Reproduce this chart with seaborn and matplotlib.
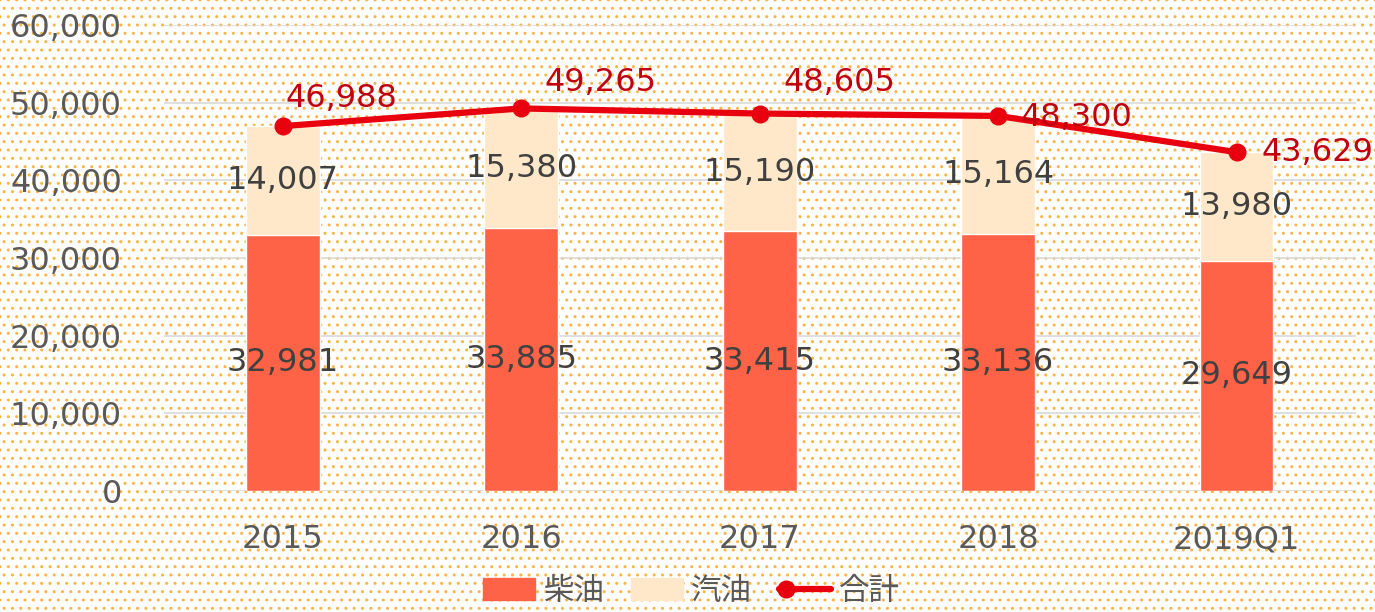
import numpy as np
import matplotlib
matplotlib.use("Agg")
import matplotlib.pyplot as plt
from matplotlib.patches import Rectangle, Patch
from matplotlib.lines import Line2D
from matplotlib.legend_handler import HandlerLine2D
import seaborn as sns

# data
years = ["2015", "2016", "2017", "2018", "2019Q1"]
diesel = [32981, 33885, 33415, 33136, 29649]
gasoline = [14007, 15380, 15190, 15164, 13980]
total = [46988, 49265, 48605, 48300, 43629]
yticks = [0, 10000, 20000, 30000, 40000, 50000, 60000]

sns.set_theme(style="white")
plt.rcParams['font.family'] = ['DejaVu Sans', 'Noto Sans CJK JP']
plt.rcParams['hatch.linewidth'] = 1.0
plt.rcParams['hatch.color'] = '#f9b54a'

C_DIESEL = '#ff6347'
C_GAS = '#ffe8c9'
C_LINE = '#e8000f'
C_TOTLBL = '#c0000f'
C_TXT = '#404040'
C_TICK = '#595959'
FS = 23


class LeftMarkerHandler(HandlerLine2D):
    """Legend line with the marker sitting at the left end (like Excel)."""
    def create_artists(self, legend, orig_handle, xdescent, ydescent,
                       width, height, fontsize, trans):
        y = height / 2 - ydescent
        x0, x1 = -xdescent, width - xdescent
        ln = Line2D([x0, x1], [y, y], color=orig_handle.get_color(),
                    lw=orig_handle.get_linewidth(), transform=trans)
        mk = Line2D([x0 + 5], [y], marker='o', color=orig_handle.get_color(),
                    markersize=orig_handle.get_markersize(), lw=0,
                    markeredgewidth=0, transform=trans)
        return [ln, mk]


fig = plt.figure(figsize=(13.75, 6.12), dpi=100)
fig.patch.set_facecolor('white')
# dotted background like the original
fig.patches.append(Rectangle((0, 0), 1, 1, transform=fig.transFigure,
                             facecolor='white', edgecolor='#f9b54a',
                             hatch='..', linewidth=0, zorder=-10))

ax = fig.add_axes([0.119, 0.198, 0.867, 0.761])
ax.set_facecolor('none')

x = np.arange(len(years))
# stacked bars: draw the total in gasoline colour, then diesel on top
sns.barplot(x=x, y=total, color=C_GAS, width=0.31, saturation=1, ax=ax,
            native_scale=True, zorder=2)
sns.barplot(x=x, y=diesel, color=C_DIESEL, width=0.31, saturation=1, ax=ax,
            native_scale=True, zorder=3)
sns.lineplot(x=x, y=total, color=C_LINE, lw=4.5, marker='o', markersize=13,
             markeredgewidth=0, ax=ax, zorder=5)

for i in range(len(years)):
    ax.text(x[i], diesel[i] / 2, f"{diesel[i]:,}", ha='center', va='center',
            fontsize=FS, color=C_TXT, zorder=6)
    ax.text(x[i], diesel[i] + gasoline[i] / 2, f"{gasoline[i]:,}", ha='center',
            va='center', fontsize=FS, color=C_TXT, zorder=6)

# label offsets for the totals (points)
offs = [(2, 20), (17, 19), (17, 22), (16, -1), (18, 0)]
for i in range(len(years)):
    ax.annotate(f"{total[i]:,}", (x[i], total[i]), xytext=offs[i],
                textcoords='offset points', ha='left', va='center',
                fontsize=FS, color=C_TOTLBL, zorder=7)

ax.set_xlim(-0.5, 4.5)
ax.set_ylim(0, 60000)
ax.set_yticks(yticks)
ax.set_yticklabels([f"{v:,}" for v in yticks])
ax.set_xticks(x)
ax.set_xticklabels(years)
ax.tick_params(axis='both', length=0, labelsize=FS, labelcolor=C_TICK)
ax.tick_params(axis='y', pad=30)
ax.tick_params(axis='x', pad=24)
ax.grid(axis='y', color='#d9d9d9', lw=1.2, zorder=0)
ax.set_axisbelow(True)
for s in ax.spines.values():
    s.set_visible(False)
ax.set_xlabel('')
ax.set_ylabel('')

line_handle = Line2D([0], [0], color=C_LINE, lw=4.5, marker='o', markersize=13)
handles = [Patch(color=C_DIESEL), Patch(color=C_GAS), line_handle]
leg = fig.legend(handles, ['柴油', '汽油', '合計'], loc='lower center',
                 bbox_to_anchor=(0.503, -0.036), ncol=3, frameon=False,
                 fontsize=22, handlelength=1.7, handleheight=0.75,
                 columnspacing=0.9, handletextpad=0.25,
                 handler_map={line_handle: LeftMarkerHandler()})
for t in leg.get_texts():
    t.set_color(C_TICK)
    t.set_family(['Noto Sans CJK JP', 'DejaVu Sans'])

fig.savefig('out.png', dpi=100)
